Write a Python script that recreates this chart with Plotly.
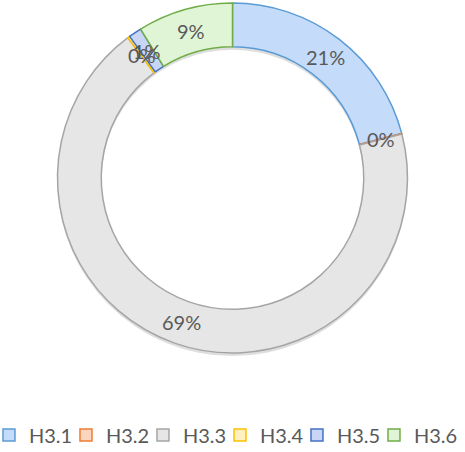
import math
import plotly.graph_objects as go

labels = ["H3.1", "H3.2", "H3.3", "H3.4", "H3.5", "H3.6"]
values = [20.9, 0.05, 68.85, 0.2, 1.2, 8.8]
fill_colors = ["#c4dcfa", "#fbd5c0", "#e6e6e6", "#fff0c0", "#c8d5f4", "#e0f5d6"]
line_colors = ["#5b9bd5", "#ed7d31", "#a5a5a5", "#ffc000", "#4472c4", "#70ad47"]

W, H = 465, 452
M_T, M_B = 3, 96
SHADOW = 3
plot_h = H - M_T - M_B          # 353
R = min(W, plot_h - SHADOW) / 2  # pie radius in px
HOLE = 0.75

fig = go.Figure()

# soft shadow ring (offset downward)
fig.add_trace(go.Pie(
    labels=["shadow"], values=[1], hole=HOLE, sort=False,
    marker=dict(colors=["rgba(0,0,0,0.13)"], line=dict(width=0)),
    textinfo="none", hoverinfo="skip", showlegend=False,
    domain=dict(x=[0, 1], y=[0, 1 - SHADOW / plot_h]),
))

fig.add_trace(go.Pie(
    labels=labels, values=values, hole=HOLE, sort=False,
    direction="clockwise", rotation=0,
    marker=dict(colors=fill_colors, line=dict(color=line_colors, width=1.5)),
    textinfo="none", hoverinfo="label+percent",
    domain=dict(x=[0, 1], y=[SHADOW / plot_h, 1]),
))

# data labels at the middle of the ring, computed from the data
total = sum(values)
cum = 0.0
r_mid = R * (1 + HOLE) / 2
cy = (SHADOW / plot_h + 1) / 2
for lab, v in zip(labels, values):
    mid = (cum + v / 2) / total * 2 * math.pi
    cum += v
    x = 0.5 + r_mid * math.sin(mid) / W
    y = cy + r_mid * math.cos(mid) / plot_h
    fig.add_annotation(
        x=x, y=y, xref="paper", yref="paper", showarrow=False,
        text=f"{round(v / total * 100)}%",
        font=dict(family="Lato", size=20, color="#595959"),
        xanchor="center", yanchor="middle",
    )

fig.update_layout(
    width=W, height=H,
    margin=dict(l=0, r=0, t=M_T, b=M_B, autoexpand=False),
    paper_bgcolor="white", plot_bgcolor="white",
    legend=dict(
        orientation="h", x=-0.0237, xanchor="left", y=-0.224, yanchor="middle",
        font=dict(family="Lato", size=20, color="#595959"),
        entrywidth=32, itemwidth=30, traceorder="normal",
    ),
)

post = (
    "document.body.style.margin='0';"
    "document.querySelectorAll('.legend [clip-path]').forEach(function(e){"
    "e.removeAttribute('clip-path');});"
)
fig.write_html("out.html", config={"displayModeBar": False}, post_script=post)
